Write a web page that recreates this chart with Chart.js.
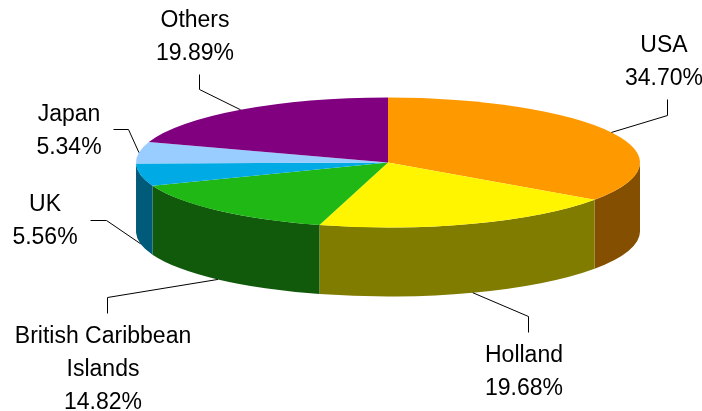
<!DOCTYPE html>
<html>
<head>
<meta charset="utf-8">
<script src="https://cdn.jsdelivr.net/npm/chart.js@4"></script>
<style>
  html, body { margin:0; padding:0; background:#fff; }
  #wrap { width:702px; height:411px; }
</style>
</head>
<body>
<div id="wrap"><canvas id="pie3d" width="702" height="411"></canvas></div>
<script>
// data
const countries = ['USA', 'Holland', 'British Caribbean Islands', 'UK', 'Japan', 'Others'];
const shares = [34.70, 19.68, 14.82, 5.56, 5.34, 19.89];
const labelLines = [['USA'], ['Holland'], ['British Caribbean', 'Islands'], ['UK'], ['Japan'], ['Others']];

// look
const topColors  = ['#FF9900', '#FFF500', '#20B815', '#00AAE4', '#99CCFF', '#800080'];
const sideColors = ['#844F00', '#807C00', '#115A0C', '#005A7A', '#4D6680', '#400040'];

// ellipse of the top face and height of the wall (px)
const CX = 388, CY = 162.5, RX = 252, RY = 65, DEPTH = 69;

// label placement: text centre x, first baseline y, leader elbow + end
const labelPos = [
  { x: 664, y: 52,  pts: [[667,115],[667,99]] },
  { x: 524, y: 362, pts: [[528,316],[528,332]] },
  { x: 103, y: 343, pts: [[107,297],[107,313]] },
  { x: 45,  y: 211, pts: [[106,220],[90,220]] },
  { x: 69,  y: 121, pts: [[128,129],[113,129]] },
  { x: 195, y: 27,  pts: [[199,89],[199,74]] }
];
const LINE_H = 33;

const pie3d = {
  id: 'pie3d',
  beforeDatasetsDraw(chart){
    const ctx = chart.ctx;
    const arcs = chart.getDatasetMeta(0).data;
    if(!arcs.length) return;
    const a0 = arcs[0];
    const r = a0.outerRadius, sx = RX/r, sy = RY/r;
    ctx.save();
    ctx.translate(CX, CY);
    ctx.scale(sx, sy);
    ctx.translate(-a0.x, -a0.y);
    const d = DEPTH/sy;
    // front walls
    arcs.forEach((arc, i)=>{
      const s = Math.max(arc.startAngle, 0);
      const e = Math.min(arc.endAngle, Math.PI);
      if(e <= s) return;
      ctx.beginPath();
      ctx.arc(arc.x, arc.y, r, s, e);
      ctx.lineTo(arc.x + r*Math.cos(e), arc.y + r*Math.sin(e) + d);
      ctx.arc(arc.x, arc.y + d, r, e, s, true);
      ctx.closePath();
      ctx.fillStyle = sideColors[i];
      ctx.fill();
    });
    // top face is then drawn by chart.js under this transform
  },
  afterDatasetsDraw(chart){
    const ctx = chart.ctx;
    ctx.restore();
    const arcs = chart.getDatasetMeta(0).data;
    ctx.save();
    ctx.strokeStyle = '#000';
    ctx.lineWidth = 1;
    ctx.fillStyle = '#000';
    ctx.font = '23px "Liberation Sans", Arial, sans-serif';
    ctx.textAlign = 'center';
    ctx.textBaseline = 'alphabetic';
    arcs.forEach((arc, i)=>{
      const m = (arc.startAngle + arc.endAngle)/2;
      let ax = CX + RX*Math.cos(m);
      let ay = CY + RY*Math.sin(m);
      if(Math.sin(m) > 0.05) ay += DEPTH;
      const lp = labelPos[i];
      ctx.beginPath();
      ctx.moveTo(ax, ay);
      lp.pts.forEach(p=>ctx.lineTo(p[0]+0.5, p[1]+0.5));
      ctx.stroke();
      const lines = labelLines[i].concat([shares[i].toFixed(2)+'%']);
      lines.forEach((t, k)=>ctx.fillText(t, lp.x, lp.y + k*LINE_H));
    });
    ctx.restore();
  }
};

new Chart(document.getElementById('pie3d'), {
  type: 'pie',
  data: {
    labels: countries,
    datasets: [{
      data: shares,
      backgroundColor: topColors,
      borderWidth: 0,
      clip: false
    }]
  },
  options: {
    responsive: false,
    animation: false,
    devicePixelRatio: 1,
    layout: { padding: 0 },
    plugins: {
      legend: { display: false },
      tooltip: { enabled: false }
    }
  },
  plugins: [pie3d]
});
</script>
</body>
</html>
